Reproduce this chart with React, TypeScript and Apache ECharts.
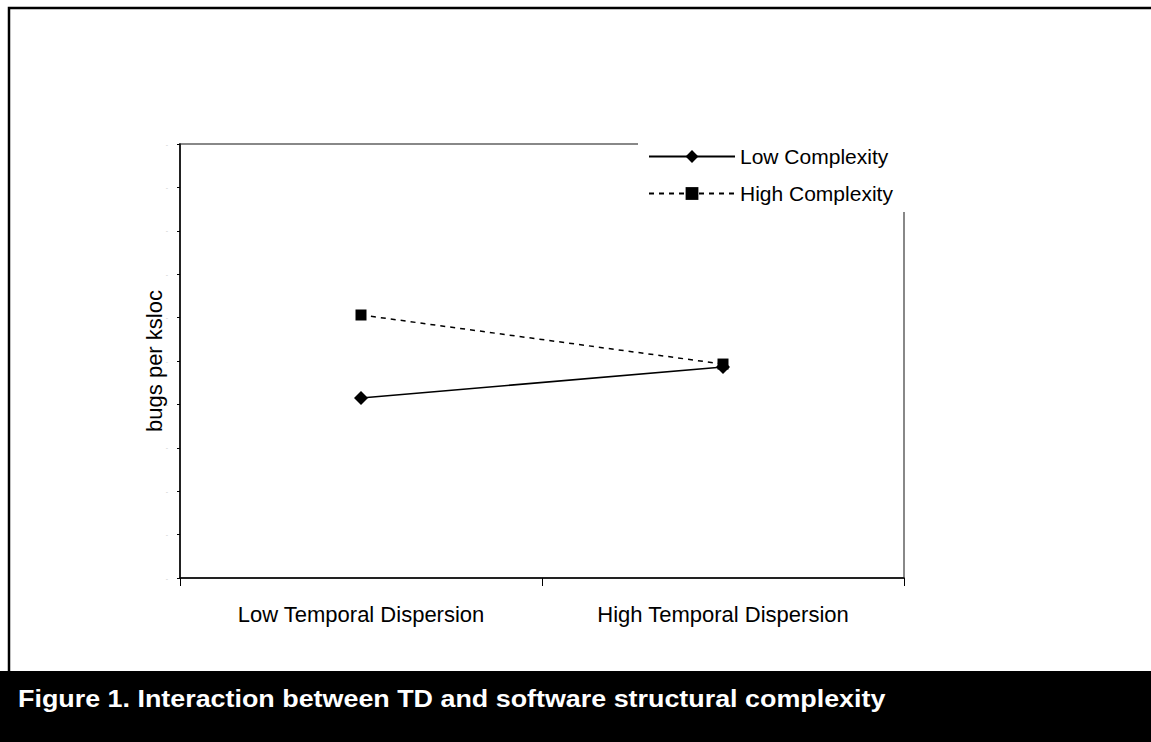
import React, { useEffect, useRef } from "react";
import * as echarts from "echarts";

const categories = ["Low Temporal Dispersion", "High Temporal Dispersion"];
const lowComplexity = [4.15, 4.86];
const highComplexity = [6.06, 4.93];
const seriesNames = ["Low Complexity", "High Complexity"];
const yAxisName = "bugs per ksloc";
const caption = "Figure 1. Interaction between TD and software structural complexity";
const FONT = "'Liberation Sans', Arial, sans-serif";

export default function App() {
  const ref = useRef<HTMLDivElement>(null);
  useEffect(() => {
    if (!ref.current) return;
    const chart = echarts.init(ref.current, null, { renderer: "svg" });
    chart.setOption({
      animation: false,
      backgroundColor: "#fff",
      textStyle: { fontFamily: FONT, color: "#000" },
      grid: {
        left: 180,
        top: 144,
        right: 247,
        bottom: 164,
        show: true,
        borderColor: "#888",
        borderWidth: 2,
        backgroundColor: "transparent",
      },
      legend: {
        orient: "vertical",
        left: 638,
        top: 137,
        padding: [9, 16, 8, 10],
        backgroundColor: "#fff",
        itemWidth: 86,
        itemHeight: 16,
        itemGap: 16,
        textStyle: { fontSize: 21, color: "#000", fontFamily: FONT },
        data: seriesNames,
      },
      xAxis: {
        type: "category",
        data: categories,
        boundaryGap: true,
        axisLine: { lineStyle: { color: "#000", width: 1.5 } },
        axisTick: { show: true, length: 8, lineStyle: { color: "#000", width: 1 } },
        axisLabel: { fontSize: 22, color: "#000", margin: 25, fontFamily: FONT },
        splitLine: { show: false },
      },
      yAxis: {
        type: "value",
        min: 0,
        max: 10,
        interval: 1,
        name: yAxisName,
        nameLocation: "middle",
        nameRotate: 90,
        nameGap: 15,
        nameMoveOverlap: false,
        nameTextStyle: { fontSize: 22, color: "#000", fontFamily: FONT },
        axisLine: { show: true, lineStyle: { color: "#000", width: 1.5 } },
        axisTick: { show: true, length: 3, lineStyle: { color: "#000" } },
        axisLabel: { formatter: () => "-", fontSize: 7, color: "#ccc", margin: 12 },
        splitLine: { show: false },
      },
      series: [
        {
          name: seriesNames[0],
          type: "line",
          data: lowComplexity,
          symbol: "diamond",
          symbolSize: 14,
          itemStyle: { color: "#000" },
          lineStyle: { color: "#000", width: 1.5, type: "solid" },
        },
        {
          name: seriesNames[1],
          type: "line",
          data: highComplexity,
          symbol: "rect",
          symbolSize: 11,
          itemStyle: { color: "#000" },
          lineStyle: { color: "#000", width: 1.5, type: [5, 5] },
        },
      ],
      graphic: [
        {
          type: "polyline",
          shape: { points: [[9, 671], [9, 8], [1151, 8]] },
          style: { stroke: "#000", lineWidth: 2.5, fill: "none" },
        },
        {
          type: "rect",
          shape: { x: 0, y: 671, width: 1151, height: 71 },
          style: { fill: "#000" },
        },
        {
          type: "text",
          x: 18,
          y: 699,
          scaleX: 1.12,
          style: {
            text: caption,
            fill: "#fff",
            font: `bold 24px ${FONT}`,
            verticalAlign: "middle",
          },
        },
      ],
    });
    return () => chart.dispose();
  }, []);
  return (
    <div
      ref={ref}
      style={{ position: "fixed", left: 0, top: 0, width: 1151, height: 742, background: "#fff" }}
    />
  );
}
